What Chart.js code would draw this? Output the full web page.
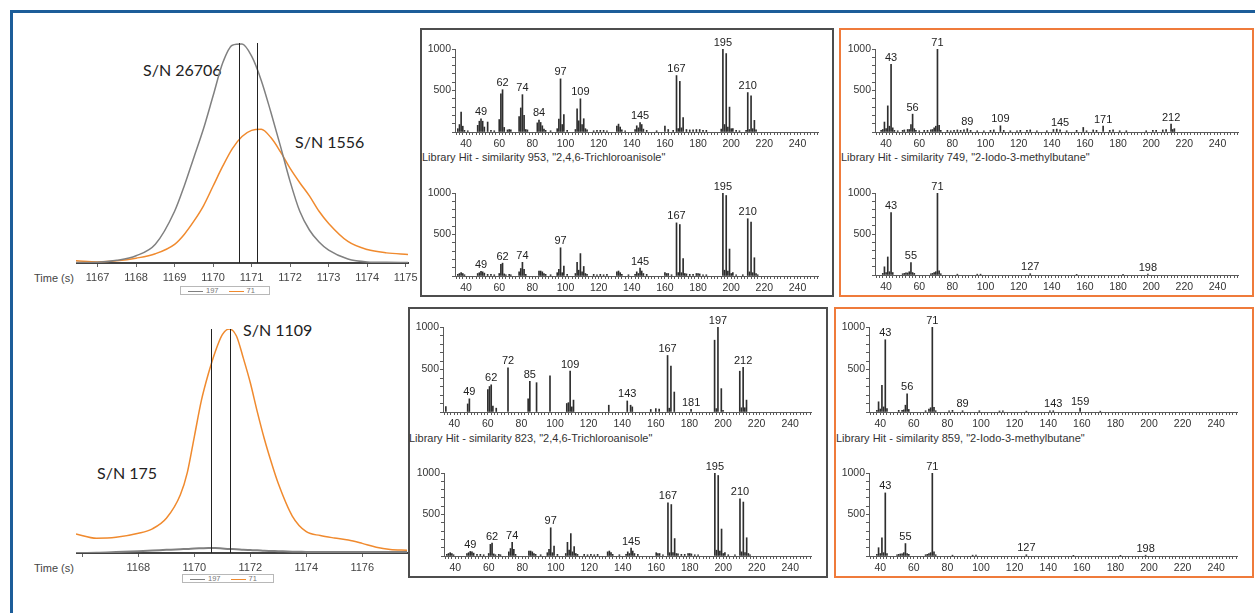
<!doctype html>
<html lang="en">
<head>
<meta charset="utf-8">
<title>TCA vs 2-Iodo-3-methylbutane</title>
<script src="https://cdn.jsdelivr.net/npm/chart.js"></script>
<style>
  body { margin:0; width:1255px; height:613px; background:#fff; position:relative; overflow:hidden; font-family:"Liberation Sans", Arial, sans-serif; }
  .blue { position:absolute; background:#1c5d99; }
  .box { position:absolute; box-sizing:border-box; border:2px solid #4d4d4d; }
  .box.orange { border-color:#ef7b3b; }
  .sn { position:absolute; font:16px Lato, "Noto Sans", sans-serif; color:#222; white-space:nowrap; line-height:20px; }
  .cap { position:absolute; font:11px "Liberation Sans", Arial, sans-serif; color:#333; white-space:nowrap; line-height:12px; }
  .tlabel { position:absolute; font:11px "Liberation Sans", Arial, sans-serif; color:#444; line-height:12px; }
  .legend { position:absolute; box-sizing:border-box; border:1px solid #b8b8b8; height:9px; font:7.5px "Liberation Sans", Arial, sans-serif; color:#777; line-height:7px; white-space:nowrap; padding-left:7px; }
  .legend i { display:inline-block; width:15px; height:0; border-top:1px solid; vertical-align:middle; margin-right:3px; }
  .legend span { margin-right:10px; }
  canvas { position:absolute; }
</style>
</head>
<body>
<div class="blue" style="left:10px;top:10px;width:1245px;height:3px"></div>
<div class="blue" style="left:10px;top:10px;width:3px;height:603px"></div>

<div class="box" style="left:420px;top:28px;width:414px;height:269px"></div>
<div class="box orange" style="left:839px;top:28px;width:415px;height:269px"></div>
<div class="box" style="left:408px;top:307px;width:420px;height:271px"></div>
<div class="box orange" style="left:834px;top:307px;width:420px;height:271px"></div>

<div class="cap" style="left:422px;top:151px">Library Hit - similarity 953, "2,4,6-Trichloroanisole"</div>
<div class="cap" style="left:841px;top:151px">Library Hit - similarity 749, "2-Iodo-3-methylbutane"</div>
<div class="cap" style="left:409px;top:432px">Library Hit - similarity 823, "2,4,6-Trichloroanisole"</div>
<div class="cap" style="left:836px;top:432px">Library Hit - similarity 859, "2-Iodo-3-methylbutane"</div>

<div class="sn" style="left:143px;top:60px">S/N 26706</div>
<div class="sn" style="left:295px;top:132px">S/N 1556</div>
<div class="sn" style="left:243px;top:320px">S/N 1109</div>
<div class="sn" style="left:97px;top:463px">S/N 175</div>

<div class="tlabel" style="left:34px;top:272px">Time (s)</div>
<div class="tlabel" style="left:34px;top:562px">Time (s)</div>

<div class="legend" id="leg1" style="left:180px;top:286px;width:90px"></div>
<div class="legend" id="leg2" style="left:182px;top:574px;width:92px"></div>

<script>
// ---- chromatograms (relative intensity, tallest trace = 100) ----
const ionNames = ['197', '71'];
const ionColors = ['#808080', '#f08a2e'];

const run1Time = [1166.44, 1167.0, 1167.5, 1168.0, 1168.5, 1169.0, 1169.25, 1169.5, 1169.75, 1170.0, 1170.25, 1170.5, 1170.75, 1171.0, 1171.25, 1171.5, 1171.75, 1172.0, 1172.25, 1172.5, 1172.75, 1173.0, 1173.5, 1174.0, 1174.5, 1175.06];
const run1Ion197 = [0.2, 0.3, 1.2, 3.3, 8.5, 23.5, 35, 48, 61, 76, 91, 99, 99.5, 94, 83, 68.5, 53, 37, 23.5, 15, 9.5, 5.8, 1.8, 0.5, 0.3, 0.2];
const run1Ion71 = [1.0, 0.5, 1.0, 2.2, 4.2, 8.5, 13, 19, 26, 35, 44, 52, 57.5, 60.3, 60.8, 57, 50.5, 43, 36.5, 30.5, 23.5, 18, 9.8, 6.1, 4.6, 3.9];
const run1Markers = [1170.67, 1171.15];
const run1Ticks = [1167, 1168, 1169, 1170, 1171, 1172, 1173, 1174, 1175];

const run2Time = [1165.77, 1166.5, 1167.2, 1168.0, 1168.5, 1169.0, 1169.5, 1169.75, 1170.0, 1170.25, 1170.5, 1170.75, 1171.0, 1171.25, 1171.5, 1171.75, 1172.0, 1172.25, 1172.5, 1172.75, 1173.0, 1173.5, 1174.0, 1174.5, 1175.0, 1175.5, 1176.0, 1176.5, 1177.0, 1177.6];
const run2Ion197 = [0, 0.1, 0.4, 0.8, 1.1, 1.4, 1.7, 1.8, 2.0, 2.1, 2.2, 2.2, 2.0, 1.8, 1.7, 1.4, 1.3, 1.2, 1.0, 0.9, 0.8, 0.6, 0.5, 0.4, 0.4, 0.4, 0.4, 0.4, 0.4, 0.4];
const run2Ion71 = [8.5, 6.6, 7.0, 8.8, 10.8, 15.5, 26, 36, 52, 68, 80, 90, 97.5, 100, 97, 87, 76, 63, 51, 40.5, 31, 16.5, 9.5, 7.8, 6.7, 5.8, 4.3, 2.6, 1.6, 1.2];
const run2Markers = [1170.58, 1171.28];
const run2Ticks = [1168, 1170, 1172, 1174, 1176];

// ---- mass spectra (m/z, intensity scaled to 1000) ----
const mzTicks = [40, 60, 80, 100, 120, 140, 160, 180, 200, 220, 240];
const intTicks = [500, 1000];

const s1TcaMz  = [35, 36, 37, 38, 39, 41, 47, 48, 49, 50, 51, 53, 55, 57, 60, 61, 62, 63, 65, 66, 67, 72, 73, 74, 75, 76, 77, 83, 84, 85, 86, 87, 88, 91, 95, 96, 97, 98, 99, 101, 106, 107, 108, 109, 110, 111, 112, 113, 117, 119, 121, 123, 125, 131, 132, 133, 134, 136, 142, 143, 144, 145, 146, 147, 149, 155, 160, 162, 165, 167, 168, 169, 170, 171, 173, 175, 177, 179, 181, 183, 185, 194, 195, 196, 197, 198, 199, 200, 201, 203, 205, 209, 210, 211, 212, 213, 214, 215];
const s1TcaInt = [40, 90, 240, 70, 20, 15, 80, 130, 160, 130, 60, 120, 20, 15, 150, 460, 510, 55, 25, 30, 25, 185, 290, 450, 200, 30, 25, 110, 145, 115, 75, 35, 20, 15, 40, 155, 640, 90, 210, 20, 30, 280, 135, 400, 90, 160, 40, 25, 15, 20, 20, 20, 15, 70, 95, 60, 25, 15, 30, 75, 50, 115, 90, 35, 20, 15, 70, 30, 20, 680, 40, 610, 50, 175, 30, 25, 25, 30, 30, 20, 20, 35, 1000, 90, 945, 60, 300, 40, 40, 20, 15, 20, 475, 30, 435, 40, 140, 25];
const s1TcaPeaks = [49, 62, 74, 84, 97, 109, 145, 167, 195, 210];

const libTcaMz  = [35, 36, 37, 38, 39, 47, 48, 49, 50, 51, 53, 55, 57, 60, 61, 62, 63, 64, 66, 67, 72, 73, 74, 75, 76, 84, 85, 86, 87, 88, 91, 95, 96, 97, 98, 99, 101, 106, 107, 108, 109, 110, 111, 112, 113, 117, 119, 121, 123, 125, 131, 132, 133, 134, 138, 142, 143, 144, 145, 146, 147, 149, 160, 161, 162, 164, 167, 168, 169, 170, 171, 172, 173, 175, 177, 179, 180, 181, 183, 185, 195, 196, 197, 198, 199, 200, 201, 203, 207, 210, 211, 212, 213, 214, 215, 216];
const libTcaInt = [20, 30, 40, 30, 15, 30, 40, 55, 50, 35, 20, 20, 15, 30, 140, 155, 25, 15, 20, 15, 50, 90, 165, 80, 20, 60, 60, 50, 30, 20, 15, 40, 80, 340, 40, 120, 20, 30, 165, 70, 270, 50, 115, 30, 20, 20, 15, 20, 15, 20, 50, 60, 40, 20, 15, 20, 50, 30, 95, 60, 30, 20, 40, 30, 30, 15, 640, 40, 620, 40, 210, 30, 25, 20, 20, 30, 30, 25, 15, 15, 1000, 70, 970, 60, 325, 30, 40, 15, 15, 690, 50, 650, 40, 220, 30, 15];
const libTcaPeaks = [49, 62, 74, 97, 145, 167, 195, 210];

const s1IodoMz  = [37, 38, 39, 40, 41, 42, 43, 44, 45, 47, 50, 51, 53, 54, 55, 56, 57, 58, 60, 63, 65, 67, 68, 69, 70, 71, 72, 73, 77, 79, 81, 83, 85, 87, 89, 91, 95, 99, 103, 105, 109, 111, 115, 119, 121, 125, 127, 131, 137, 141, 143, 145, 149, 155, 159, 161, 165, 167, 171, 175, 177, 181, 185, 197, 201, 203, 207, 209, 212, 213, 214];
const s1IodoInt = [20, 30, 120, 40, 315, 70, 815, 50, 20, 15, 20, 25, 30, 30, 90, 215, 40, 20, 15, 20, 20, 25, 30, 50, 70, 1000, 80, 20, 20, 15, 20, 25, 20, 25, 40, 20, 15, 15, 20, 25, 75, 20, 15, 15, 20, 20, 25, 15, 15, 30, 35, 25, 15, 20, 55, 15, 25, 20, 70, 20, 25, 15, 15, 15, 20, 20, 25, 30, 95, 30, 40];
const s1IodoPeaks = [43, 56, 71, 89, 109, 145, 171, 212];

const libIodoMz  = [38, 39, 40, 41, 42, 43, 44, 50, 51, 52, 53, 54, 55, 56, 57, 67, 68, 69, 70, 71, 72, 73, 83, 95, 97, 127, 155, 183, 198];
const libIodoInt = [20, 100, 30, 220, 40, 760, 30, 15, 20, 25, 25, 40, 150, 30, 20, 15, 20, 30, 40, 1000, 50, 15, 10, 10, 10, 15, 8, 8, 10];
const libIodoPeaks = [43, 55, 71, 127, 198];

const s2TcaMz  = [35, 48, 49, 60, 61, 62, 63, 65, 72, 84, 85, 89, 97, 107, 108, 109, 110, 111, 132, 143, 145, 146, 157, 160, 162, 167, 168, 169, 171, 181, 195, 196, 197, 199, 200, 210, 211, 212, 213, 214];
const s2TcaInt = [65, 95, 155, 265, 300, 320, 70, 45, 520, 155, 360, 345, 425, 100, 110, 480, 60, 140, 80, 130, 80, 60, 30, 40, 35, 665, 45, 540, 235, 30, 845, 40, 1000, 275, 20, 480, 50, 525, 50, 140];
const s2TcaPeaks = [49, 62, 72, 85, 109, 143, 167, 181, 197, 212];

const s2IodoMz  = [38, 39, 40, 41, 42, 43, 44, 51, 53, 54, 55, 56, 57, 67, 69, 70, 71, 72, 73, 81, 83, 89, 99, 111, 113, 127, 141, 143, 159, 171];
const s2IodoInt = [20, 120, 35, 315, 60, 850, 40, 20, 20, 25, 80, 215, 30, 15, 35, 50, 1000, 55, 15, 15, 20, 15, 15, 12, 15, 10, 15, 15, 45, 10];
const s2IodoPeaks = [43, 56, 71, 89, 143, 159];

const TXT = '#333';
const AXIS = '#5a5a5a';
const tickFont = { family: 'Liberation Sans', size: 10.5 };

const peakPlugin = {
  id: 'peaks',
  afterDatasetsDraw(chart, args, opts) {
    const ctx = chart.ctx, xs = chart.scales.x, ys = chart.scales.y;
    const pts = chart.data.datasets[0].data;
    ctx.save();
    ctx.font = '11px "Liberation Sans"';
    ctx.fillStyle = '#222';
    ctx.textAlign = 'center';
    ctx.textBaseline = 'bottom';
    opts.list.forEach(m => {
      const p = pts.find(d => d.x === m);
      ctx.fillText(String(m), xs.getPixelForValue(m), ys.getPixelForValue(p ? p.y : 0) - 1);
    });
    ctx.restore();
  }
};

const markerPlugin = {
  id: 'markers',
  afterDatasetsDraw(chart, args, opts) {
    const ctx = chart.ctx, a = chart.chartArea, xs = chart.scales.x;
    ctx.save();
    ctx.strokeStyle = '#222';
    ctx.lineWidth = 1;
    opts.times.forEach(t => {
      const x = Math.round(xs.getPixelForValue(t)) + 0.5;
      ctx.beginPath();
      ctx.moveTo(x, a.top);
      ctx.lineTo(x, a.bottom);
      ctx.stroke();
    });
    ctx.restore();
  }
};

function place(area, axw, axh, padT, padR) {
  const cv = document.createElement('canvas');
  const w = area.r - area.l + axw + padR;
  const h = padT + area.b - area.t + axh;
  cv.width = w; cv.height = h;
  cv.style.left = (area.l - axw) + 'px';
  cv.style.top = (area.t - padT) + 'px';
  cv.style.width = w + 'px';
  cv.style.height = h + 'px';
  document.body.appendChild(cv);
  return cv;
}

function spectrum(mz, inten, peaks, area) {
  const AXW = 36, AXH = 22, PADT = 16, PADR = 14;
  const cv = place(area, AXW, AXH, PADT, PADR);
  new Chart(cv, {
    type: 'bar',
    data: { datasets: [{ data: mz.map((m, i) => ({ x: m, y: inten[i] })), backgroundColor: '#2e2e2e', barThickness: 1 }] },
    plugins: [peakPlugin],
    options: {
      responsive: false, animation: false,
      layout: { padding: { top: PADT, right: PADR, left: 0, bottom: 0 } },
      plugins: { legend: { display: false }, tooltip: { enabled: false }, peaks: { list: peaks } },
      scales: {
        x: {
          type: 'linear', min: 33.3, max: 252.4, offset: false,
          afterFit: s => { s.height = AXH; },
          border: { display: true, color: AXIS, width: 1 },
          grid: { drawOnChartArea: false, tickLength: 3, color: AXIS, offset: false },
          ticks: { stepSize: 2, includeBounds: false, autoSkip: false, maxTicksLimit: 500, maxRotation: 0, padding: 3,
                   color: TXT, font: tickFont, callback: v => mzTicks.includes(v) ? String(v) : '' }
        },
        y: {
          min: 0, max: 1000,
          afterFit: s => { s.width = AXW; },
          border: { display: true, color: AXIS, width: 1 },
          grid: { drawOnChartArea: false, tickLength: 3, color: AXIS },
          ticks: { stepSize: 100, autoSkip: false, padding: 1, color: TXT, font: tickFont,
                   callback: v => intTicks.includes(v) ? String(v) : '' }
        }
      }
    }
  });
}

function chromatogram(time, series, markers, ticks, step, area, widths) {
  const AXH = 24, PADT = 4, PADR = 16;
  const cv = place(area, 0, AXH, PADT, PADR);
  new Chart(cv, {
    type: 'line',
    data: {
      datasets: series.map((vals, k) => ({
        label: ionNames[k],
        data: time.map((t, i) => ({ x: t, y: vals[i] })),
        borderColor: ionColors[k], borderWidth: widths[k],
        pointRadius: 0, tension: 0.4, cubicInterpolationMode: 'monotone', fill: false
      }))
    },
    plugins: [markerPlugin],
    options: {
      responsive: false, animation: false,
      layout: { padding: { top: PADT, right: PADR, left: 0, bottom: 0 } },
      plugins: { legend: { display: false }, tooltip: { enabled: false }, markers: { times: markers } },
      scales: {
        x: {
          type: 'linear', min: time[0], max: time[time.length - 1],
          afterFit: s => { s.height = AXH; },
          border: { display: true, color: '#444', width: 2 },
          grid: { drawOnChartArea: false, tickLength: 4, color: '#666' },
          ticks: { stepSize: step, includeBounds: false, autoSkip: false, maxRotation: 0, padding: 4,
                   color: '#444', font: { family: 'Liberation Sans', size: 11 }, callback: v => ticks.includes(v) ? String(v) : '' }
        },
        y: { display: false, min: 0, max: 100 }
      }
    }
  });
}

function legendHtml(id) {
  document.getElementById(id).innerHTML = ionNames.map((n, k) =>
    `<i style="border-color:${ionColors[k]}"></i><span>${n}</span>`).join('');
}

chromatogram(run1Time, [run1Ion197, run1Ion71], run1Markers, run1Ticks, 1, { l: 76, r: 408, t: 43, b: 263 }, [1.5, 1.5]);
chromatogram(run2Time, [run2Ion197, run2Ion71], run2Markers, run2Ticks, 2, { l: 76, r: 407, t: 329, b: 553 }, [2, 1.5]);
legendHtml('leg1');
legendHtml('leg2');

spectrum(s1TcaMz, s1TcaInt, s1TcaPeaks, { l: 455, r: 818, t: 49, b: 132 });
spectrum(libTcaMz, libTcaInt, libTcaPeaks, { l: 455, r: 818, t: 193, b: 276 });
spectrum(s1IodoMz, s1IodoInt, s1IodoPeaks, { l: 875, r: 1238, t: 49, b: 132 });
spectrum(libIodoMz, libIodoInt, libIodoPeaks, { l: 875, r: 1238, t: 193, b: 275 });
spectrum(s2TcaMz, s2TcaInt, s2TcaPeaks, { l: 443, r: 811, t: 327, b: 412 });
spectrum(libTcaMz, libTcaInt, libTcaPeaks, { l: 444, r: 811, t: 473, b: 556 });
spectrum(s2IodoMz, s2IodoInt, s2IodoPeaks, { l: 869, r: 1237, t: 327, b: 412 });
spectrum(libIodoMz, libIodoInt, libIodoPeaks, { l: 869, r: 1237, t: 473, b: 556 });
</script>
</body>
</html>
